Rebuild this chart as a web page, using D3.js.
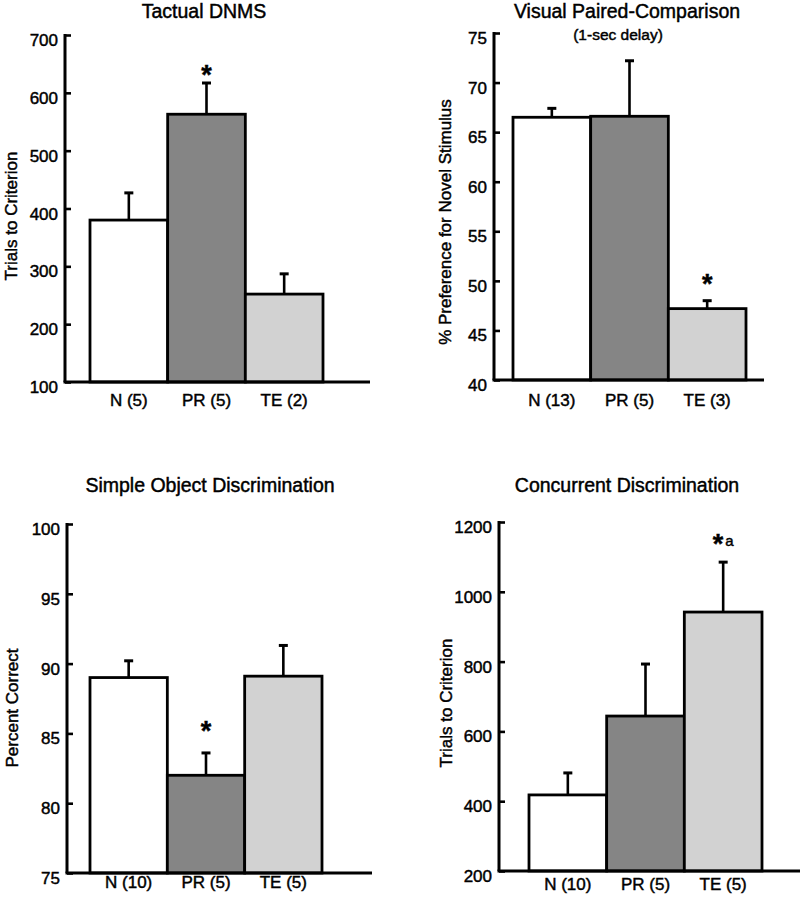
<!DOCTYPE html>
<html>
<head>
<meta charset="utf-8">
<script src="https://cdn.jsdelivr.net/npm/d3@7/dist/d3.min.js"></script>
<style>
  html, body { margin: 0; padding: 0; background: #fff; }
  svg { display: block; }
  text { font-family: "Liberation Sans", Arial, Helvetica, sans-serif; fill: #000; stroke: #000; stroke-width: 0.45px; }
</style>
</head>
<body>
<svg id="chart" width="800" height="905"></svg>
<script>
// ---------------- DATA ----------------
const tactualCategories = ["N (5)", "PR (5)", "TE (2)"];
const tactualMeans = [380, 563, 252];
const tactualUpper = [427, 617, 287];
const tactualTicks = [100, 200, 300, 400, 500, 600, 700];
const tactualMarks = ["", "*", ""];

const vpcCategories = ["N (13)", "PR (5)", "TE (3)"];
const vpcMeans = [66.5, 66.6, 47.2];
const vpcUpper = [67.4, 72.2, 48.0];
const vpcTicks = [40, 45, 50, 55, 60, 65, 70, 75];
const vpcMarks = ["", "", "*"];

const sodCategories = ["N (10)", "PR (5)", "TE (5)"];
const sodMeans = [89.0, 82.0, 89.1];
const sodUpper = [90.2, 83.6, 91.3];
const sodTicks = [75, 80, 85, 90, 95, 100];
const sodMarks = ["", "*", ""];

const cdCategories = ["N (10)", "PR (5)", "TE (5)"];
const cdMeans = [418, 644, 942];
const cdUpper = [481, 793, 1085];
const cdTicks = [200, 400, 600, 800, 1000, 1200];
const cdMarks = ["", "", "*"];
const cdMarkSuffix = ["", "", "a"];

const groupColors = ["#ffffff", "#858585", "#d2d2d2"];

// ---------------- LAYOUT ----------------
const panels = [
  { title: "Tactual DNMS", subtitle: null, ylabel: "Trials to Criterion",
    cats: tactualCategories, means: tactualMeans, upper: tactualUpper, ticks: tactualTicks,
    marks: tactualMarks, suffix: ["", "", ""],
    axisX: 65, top: 35, bottom: 382, barL: 90, barR: 323, xEnd: 370,
    titleX: 204, titleY: 18, ylabX: 17, ylabY: 216, xlabY: 406, markGap: 15 },
  { title: "Visual Paired-Comparison", subtitle: "(1-sec delay)", ylabel: "% Preference for Novel Stimulus",
    cats: vpcCategories, means: vpcMeans, upper: vpcUpper, ticks: vpcTicks,
    marks: vpcMarks, suffix: ["", "", ""],
    axisX: 494, top: 33, bottom: 380, barL: 513, barR: 746, xEnd: 764,
    titleX: 627, titleY: 18, subX: 618, subY: 40, ylabX: 451, ylabY: 222, xlabY: 406, markGap: 23 },
  { title: "Simple Object Discrimination", subtitle: null, ylabel: "Percent Correct",
    cats: sodCategories, means: sodMeans, upper: sodUpper, ticks: sodTicks,
    marks: sodMarks, suffix: ["", "", ""],
    axisX: 67, top: 524, bottom: 873, barL: 90, barR: 322, xEnd: 372,
    titleX: 210, titleY: 492, ylabX: 18, ylabY: 708, xlabY: 888, markGap: 28 },
  { title: "Concurrent Discrimination", subtitle: null, ylabel: "Trials to Criterion",
    cats: cdCategories, means: cdMeans, upper: cdUpper, ticks: cdTicks,
    marks: cdMarks, suffix: cdMarkSuffix,
    axisX: 499, top: 522, bottom: 871, barL: 529, barR: 762, xEnd: 800,
    titleX: 627, titleY: 492, ylabX: 452, ylabY: 703, xlabY: 890, markGap: 25 }
];

const svg = d3.select("#chart");

panels.forEach(p => {
  const g = svg.append("g");
  const y = d3.scaleLinear()
    .domain([p.ticks[0], p.ticks[p.ticks.length - 1]])
    .range([p.bottom, p.top]);
  const x = d3.scaleBand().domain(p.cats).range([p.barL, p.barR]).padding(0);

  // Title
  g.append("text").attr("x", p.titleX).attr("y", p.titleY)
    .attr("text-anchor", "middle").style("font-size", "19.5px").text(p.title);
  if (p.subtitle) {
    g.append("text").attr("x", p.subX).attr("y", p.subY)
      .attr("text-anchor", "middle").style("font-size", "15.5px").text(p.subtitle);
  }

  // Y label
  g.append("text")
    .attr("transform", `translate(${p.ylabX},${p.ylabY}) rotate(-90)`)
    .attr("text-anchor", "middle").style("font-size", "17px").text(p.ylabel);

  // Bars
  p.cats.forEach((c, i) => {
    g.append("rect")
      .attr("x", x(c)).attr("y", y(p.means[i]))
      .attr("width", x.bandwidth()).attr("height", y(p.ticks[0]) - y(p.means[i]))
      .attr("fill", groupColors[i]).attr("stroke", "#000").attr("stroke-width", 2.8);
  });

  // Error bars
  p.cats.forEach((c, i) => {
    const cx = x(c) + x.bandwidth() / 2;
    g.append("line").attr("x1", cx).attr("x2", cx)
      .attr("y1", y(p.means[i])).attr("y2", y(p.upper[i]))
      .attr("stroke", "#000").attr("stroke-width", 2.6);
    g.append("line").attr("x1", cx - 4.5).attr("x2", cx + 4.5)
      .attr("y1", y(p.upper[i])).attr("y2", y(p.upper[i]))
      .attr("stroke", "#000").attr("stroke-width", 3);
  });

  // Significance marks
  p.cats.forEach((c, i) => {
    if (!p.marks[i]) return;
    const cx = x(c) + x.bandwidth() / 2;
    const cy = y(p.upper[i]) - p.markGap;
    const t = g.append("text").attr("x", cx).attr("y", cy + 15.5)
      .attr("text-anchor", "middle").style("font-size", "27px").style("font-weight", "bold");
    t.append("tspan").text(p.marks[i]);
    if (p.suffix[i]) {
      t.append("tspan").attr("dx", 2).attr("dy", -7)
        .style("font-size", "15px").style("font-weight", "normal").text(p.suffix[i]);
    }
  });

  // Y axis
  const axis = d3.axisLeft(y).tickValues(p.ticks).tickFormat(d3.format("d"))
    .tickSizeInner(-6).tickSizeOuter(0).tickPadding(7);
  const ag = g.append("g").attr("transform", `translate(${p.axisX},0)`).call(axis);
  ag.select(".domain").attr("stroke-width", 3).attr("d", `M0,${p.top - 1}V${p.bottom}`);
  ag.selectAll(".tick line").attr("stroke-width", 2.6);
  ag.selectAll(".tick text").attr("dy", "0.62em")
    .style("font-size", "17px").style("font-family", "'Liberation Sans', Arial, sans-serif")
    .attr("fill", "#000").attr("stroke", "#000").attr("stroke-width", 0.45);

  // X axis baseline
  g.append("line").attr("x1", p.axisX - 1.5).attr("x2", p.xEnd)
    .attr("y1", p.bottom).attr("y2", p.bottom)
    .attr("stroke", "#000").attr("stroke-width", 3);

  // X labels
  p.cats.forEach(c => {
    g.append("text").attr("x", x(c) + x.bandwidth() / 2).attr("y", p.xlabY)
      .attr("text-anchor", "middle").style("font-size", "17px").text(c);
  });
});
</script>
</body>
</html>
